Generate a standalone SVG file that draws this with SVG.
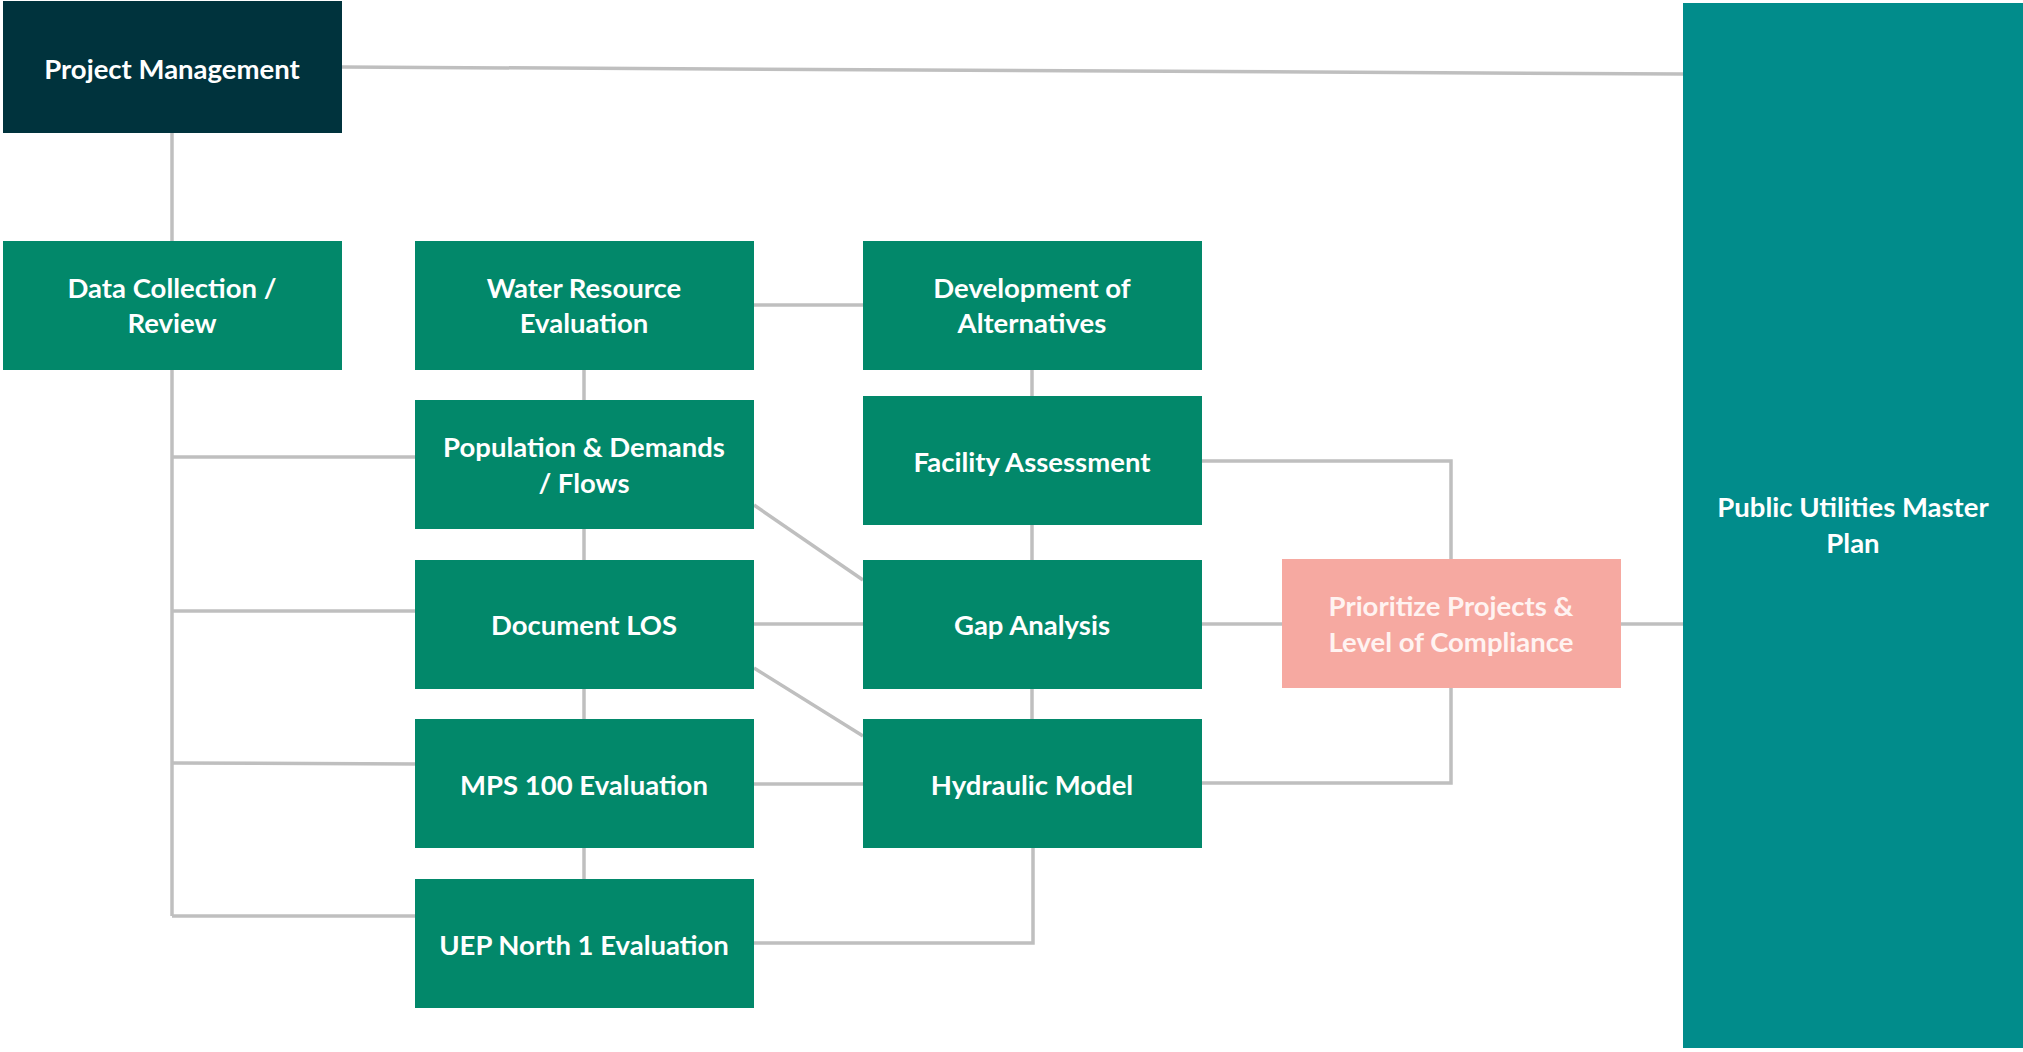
<svg xmlns="http://www.w3.org/2000/svg" width="2023" height="1052" viewBox="0 0 2023 1052">
<style>
.g{fill:#02886A}
.t{font-family:Lato,"Liberation Sans",sans-serif;font-weight:bold;font-size:27.5px;fill:#FFFFFF;text-anchor:middle}
.c{stroke:#BFBFBF;stroke-width:3.5;fill:none}
</style>
<rect width="2023" height="1052" fill="#FFFFFF"/>
<g id="connectors">
<path class="c" d="M342 67 L1683 74"/>
<path class="c" d="M172 133 V241"/>
<path class="c" d="M172 370 V916"/>
<path class="c" d="M172 457 H415"/>
<path class="c" d="M172 611 H415"/>
<path class="c" d="M172 763 L418 764"/>
<path class="c" d="M172 916 H418"/>
<path class="c" d="M754 305 H863"/>
<path class="c" d="M584 370 V400"/>
<path class="c" d="M584 529 V560"/>
<path class="c" d="M584 689 V719"/>
<path class="c" d="M584 848 V879"/>
<path class="c" d="M1032 370 V396"/>
<path class="c" d="M1032 525 V560"/>
<path class="c" d="M1032 689 V719"/>
<path class="c" d="M754 505 L863 580"/>
<path class="c" d="M754 624 H863"/>
<path class="c" d="M754 668 L863 736"/>
<path class="c" d="M754 784 H863"/>
<path class="c" d="M754 943 H1033 V848"/>
<path class="c" d="M1202 461 H1451 V559"/>
<path class="c" d="M1202 624 H1282"/>
<path class="c" d="M1202 783 H1451 V688"/>
<path class="c" d="M1621 624 H1683"/>
</g>
<g id="project-management">
<rect x="3" y="1" width="339" height="132" fill="#00333D"/>
<text class="t" x="172" y="79">Project Management</text>
</g>
<g id="data-collection">
<rect class="g" x="3" y="241" width="339" height="129"/>
<text class="t" x="172" y="298">Data Collection /</text>
<text class="t" x="172" y="333">Review</text>
</g>
<g id="water-resource">
<rect class="g" x="415" y="241" width="339" height="129"/>
<text class="t" x="584" y="298">Water Resource</text>
<text class="t" x="584" y="333">Evaluation</text>
</g>
<g id="development-alternatives">
<rect class="g" x="863" y="241" width="339" height="129"/>
<text class="t" x="1032" y="298">Development of</text>
<text class="t" x="1032" y="333">Alternatives</text>
</g>
<g id="population">
<rect class="g" x="415" y="400" width="339" height="129"/>
<text class="t" x="584" y="457">Population &amp; Demands</text>
<text class="t" x="584" y="493">/ Flows</text>
</g>
<g id="facility-assessment">
<rect class="g" x="863" y="396" width="339" height="129"/>
<text class="t" x="1032" y="472">Facility Assessment</text>
</g>
<g id="document-los">
<rect class="g" x="415" y="560" width="339" height="129"/>
<text class="t" x="584" y="635">Document LOS</text>
</g>
<g id="gap-analysis">
<rect class="g" x="863" y="560" width="339" height="129"/>
<text class="t" x="1032" y="635">Gap Analysis</text>
</g>
<g id="mps-100">
<rect class="g" x="415" y="719" width="339" height="129"/>
<text class="t" x="584" y="795">MPS 100 Evaluation</text>
</g>
<g id="hydraulic-model">
<rect class="g" x="863" y="719" width="339" height="129"/>
<text class="t" x="1032" y="795">Hydraulic Model</text>
</g>
<g id="uep-north">
<rect class="g" x="415" y="879" width="339" height="129"/>
<text class="t" x="584" y="955">UEP North 1 Evaluation</text>
</g>
<g id="prioritize">
<rect x="1282" y="559" width="339" height="129" fill="#F6A9A1"/>
<text class="t" x="1451" y="616" style="fill:#FFF3F1">Prioritize Projects &amp;</text>
<text class="t" x="1451" y="652" style="fill:#FFF3F1">Level of Compliance</text>
</g>
<g id="public-utilities-master-plan">
<rect x="1683" y="3" width="340" height="1045" fill="#018C8B"/>
<text class="t" x="1853" y="517">Public Utilities Master</text>
<text class="t" x="1853" y="553">Plan</text>
</g>
</svg>
